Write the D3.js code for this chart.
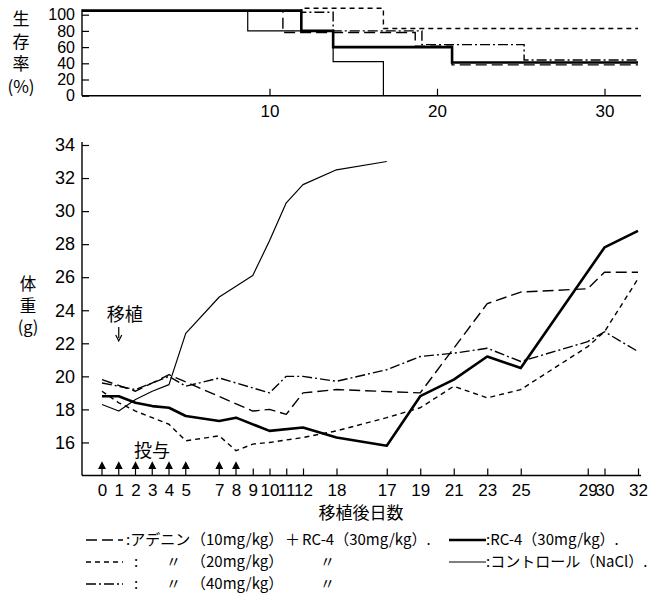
<!DOCTYPE html>
<html>
<head>
<meta charset="utf-8">
<script src="https://cdn.jsdelivr.net/npm/d3@7"></script>
<style>
	body { margin: 0; background: #fff; }
	svg { display: block; }
	.axis text { font-family: "Liberation Sans", sans-serif; font-size: 18px; fill: #000; }
	.axis.narrow text { font-family: "Liberation Sans Narrow", "Liberation Sans", sans-serif; font-size: 17px; }
	.axis line { stroke: #000; stroke-width: 1.2; }
	.jp { font-family: "Noto Sans CJK JP", sans-serif; fill: #000; }
</style>
</head>
<body>
<div id="chart"></div>
<script>
// x axis positions (days) and the labels printed under them (the figure prints "18" at day 14)
var days = [0, 1, 2, 3, 4, 5, 7, 8, 9, 10, 11, 12, 14, 17, 19, 21, 23, 25, 29, 30, 32];
var dayLabels = ["0", "1", "2", "3", "4", "5", "7", "8", "9", "10", "11", "12", "18", "17", "19", "21", "23", "25", "29", "30", "32"];
var doseDays = [0, 1, 2, 3, 4, 5, 7, 8];
var weightTicks = [16, 18, 20, 22, 24, 26, 28, 30, 32, 34];
var survTicks = [0, 20, 40, 60, 80, 100];
var survDayTicks = [10, 20, 30];

// body weight (g)
var ctrlDays = [0, 1, 2, 3, 4, 5, 7, 9, 10, 11, 12, 14, 17];
var ctrlWeight = [18.3, 17.9, 18.6, 19.1, 19.5, 22.6, 24.8, 26.1, 28.2, 30.5, 31.6, 32.5, 33.0];
var rcDays = [0, 1, 2, 3, 4, 5, 7, 8, 10, 12, 14, 17, 19, 21, 23, 25, 30, 32];
var rcWeight = [18.8, 18.8, 18.4, 18.2, 18.1, 17.6, 17.3, 17.5, 16.7, 16.9, 16.3, 15.8, 18.8, 19.8, 21.2, 20.5, 27.8, 28.8];
var a10Days = [0, 2, 4, 9, 10, 11, 12, 14, 19, 23, 25, 29, 30, 32];
var a10Weight = [19.8, 19.1, 20.1, 17.9, 18.0, 17.7, 19.0, 19.2, 19.0, 24.4, 25.1, 25.3, 26.3, 26.3];
var a20Days = [0, 1, 2, 3, 4, 5, 7, 8, 9, 10, 12, 14, 17, 19, 21, 23, 25, 29, 30, 32];
var a20Weight = [19.1, 18.4, 17.9, 17.5, 17.1, 16.1, 16.4, 15.5, 15.9, 16.0, 16.3, 16.7, 17.5, 18.1, 19.4, 18.7, 19.2, 21.8, 22.7, 25.9];
var a40Days = [0, 2, 4, 5, 7, 10, 11, 12, 14, 17, 19, 21, 23, 25, 29, 30, 32];
var a40Weight = [19.6, 19.2, 20.0, 19.4, 19.9, 19.0, 20.0, 20.0, 19.7, 20.4, 21.2, 21.4, 21.7, 20.9, 22.1, 22.7, 21.5];

// survival (%), step curves as drawn (the 100% level sits a little above the 100 tick)
var sCtrlDays = [0, 8.7, 13.8, 16.8];
var sCtrl = [105, 80, 42, 0];
var sRcDays = [0, 11.9, 13.8, 20.9, 32];
var sRc = [105, 80, 60, 41, 41];
var sA10Days = [0, 10.8, 18.7, 20.9, 32];
var sA10 = [105, 78, 61, 38, 38];
var sA20Days = [0, 11.9, 16.8, 32];
var sA20 = [105, 108, 83, 83];
var sA40Days = [0, 11.9, 13.8, 19.1, 25.2, 32];
var sA40 = [105, 103, 80, 63, 44, 44];

function pts(ds, vs) {
	return ds.map(function(d, i) { return [d, vs[i]]; });
}

var series = [
	{ w: ctrlDays, wv: ctrlWeight, s: sCtrlDays, sv: sCtrl, dash: null, width: 1.2 },
	{ w: a10Days, wv: a10Weight, s: sA10Days, sv: sA10, dash: "11,5", width: 1.4 },
	{ w: a20Days, wv: a20Weight, s: sA20Days, sv: sA20, dash: "5,4", width: 1.4 },
	{ w: a40Days, wv: a40Weight, s: sA40Days, sv: sA40, dash: "10,3,2,3", width: 1.4 },
	{ w: rcDays, wv: rcWeight, s: sRcDays, sv: sRc, dash: null, width: 2.6 }
];

var width = 653, height = 601;
var left = 82, right = 641;

var svg = d3.select("#chart").append("svg")
	.attr("width", width)
	.attr("height", height)

var x = d3.scaleLinear()
			.domain([0, 32])
			.range([102, 638])

// ---- survival panel ----
var ys = d3.scaleLinear()
			.domain([0, 100])
			.range([95.7, 14.7])

var sMax = d3.max(series, function(d) { return d3.max(d.sv); });

var gy = svg.append("g").attr("class", "axis")
	.attr("transform", "translate(" + left + ",0)")
	.call(d3.axisLeft(ys).tickValues(survTicks).tickSize(-7).tickPadding(7))
gy.select(".domain").remove();
gy.selectAll("text").style("font-size", "16px");

var gx = svg.append("g").attr("class", "axis")
	.attr("transform", "translate(0," + ys(0) + ")")
	.call(d3.axisBottom(x).tickValues(survDayTicks).tickSize(-7).tickPadding(9))
gx.select(".domain").remove();
gx.selectAll("text").style("font-size", "17px");

svg.selectAll(".axis").attr("font-size", null).attr("font-family", null);

svg.append("line")
	.attr("x1", left).attr("x2", right)
	.attr("y1", ys(0)).attr("y2", ys(0))
	.style("stroke", "#000").style("stroke-width", 1.4)
svg.append("line")
	.attr("x1", left).attr("x2", left)
	.attr("y1", ys(0)).attr("y2", ys(sMax) + 1)
	.style("stroke", "#000").style("stroke-width", 1.4)

var stepLine = d3.line()
	.x(function(d, i) { return i == 0 ? left : x(d[0]); })
	.y(function(d) { return ys(d[1]); })
	.curve(d3.curveStepAfter)

svg.selectAll(".surv")
	.data(series)
	.enter()
	.append("path")
	.attr("class", "surv")
	.attr("d", function(d) { return stepLine(pts(d.s, d.sv)); })
	.style("fill", "none")
	.style("stroke", "#000")
	.style("stroke-width", function(d) { return d.width; })
	.style("stroke-dasharray", function(d) { return d.dash; })

// stacked title 生存率(%)
var sTitle = ["生", "存", "率", "(%)"];
svg.selectAll(".stitle")
	.data(sTitle)
	.enter()
	.append("text")
	.attr("class", "jp")
	.attr("x", 21)
	.attr("y", function(d, i) { return 25 + i * 22.5; })
	.attr("text-anchor", "middle")
	.style("font-size", "17px")
	.text(function(d) { return d; })

// ---- body weight panel ----
var yw = d3.scaleLinear()
			.domain([14, 34])
			.range([475.5, 145])

var gwy = svg.append("g").attr("class", "axis")
	.attr("transform", "translate(" + left + ",0)")
	.call(d3.axisLeft(yw).tickValues(weightTicks).tickSize(-7).tickPadding(7))
gwy.select(".domain").remove();

var gwx = svg.append("g").attr("class", "axis narrow")
	.attr("transform", "translate(0," + yw(14) + ")")
	.call(d3.axisBottom(x).tickValues(days)
		.tickFormat(function(d, i) { return dayLabels[i]; })
		.tickSize(-7).tickPadding(8))
gwx.select(".domain").remove();
gwx.selectAll(".tick")
	.filter(function(d) { return doseDays.indexOf(d) >= 0; })
	.select("line").remove();

svg.selectAll(".axis").attr("font-size", null).attr("font-family", null);

svg.append("line")
	.attr("x1", left).attr("x2", right)
	.attr("y1", yw(14)).attr("y2", yw(14))
	.style("stroke", "#000").style("stroke-width", 1.4)
svg.append("line")
	.attr("x1", left).attr("x2", left)
	.attr("y1", yw(14)).attr("y2", yw(34) - 3)
	.style("stroke", "#000").style("stroke-width", 1.4)

// dosing arrows
svg.selectAll(".dose")
	.data(doseDays)
	.enter()
	.append("path")
	.attr("class", "dose")
	.attr("d", function(d) {
		var cx = x(d), b = yw(14);
		return "M" + cx + "," + b + "V" + (b - 10) +
			"M" + (cx - 3) + "," + (b - 7) + "L" + cx + "," + (b - 13) + "L" + (cx + 3) + "," + (b - 7) + "Z";
	})
	.style("fill", "#000")
	.style("stroke", "#000")
	.style("stroke-width", 1.2)

var line = d3.line()
	.x(function(d) { return x(d[0]); })
	.y(function(d) { return yw(d[1]); })

svg.selectAll(".weight")
	.data(series)
	.enter()
	.append("path")
	.attr("class", "weight")
	.attr("d", function(d) { return line(pts(d.w, d.wv)); })
	.style("fill", "none")
	.style("stroke", "#000")
	.style("stroke-width", function(d) { return d.width; })
	.style("stroke-dasharray", function(d) { return d.dash; })
	.style("stroke-linejoin", "round")

// 移植 marker at day 1
svg.append("text")
	.attr("class", "jp")
	.attr("x", x(1) + 6)
	.attr("y", 321)
	.attr("text-anchor", "middle")
	.style("font-size", "18px")
	.text("移植")
svg.append("path")
	.attr("d", "M" + x(1) + ",327V338M" + (x(1) - 3) + ",335L" + x(1) + ",341L" + (x(1) + 3) + ",335")
	.style("fill", "none")
	.style("stroke", "#000")
	.style("stroke-width", 1.2)

svg.append("text")
	.attr("class", "jp")
	.attr("x", 152)
	.attr("y", 457)
	.attr("text-anchor", "middle")
	.style("font-size", "18px")
	.text("投与")

var wTitle = ["体", "重", "(g)"];
svg.selectAll(".wtitle")
	.data(wTitle)
	.enter()
	.append("text")
	.attr("class", "jp")
	.attr("x", 28)
	.attr("y", function(d, i) { return 290 + i * 21.5; })
	.attr("text-anchor", "middle")
	.style("font-size", "16.5px")
	.text(function(d) { return d; })

svg.append("text")
	.attr("class", "jp")
	.attr("x", 361)
	.attr("y", 519)
	.attr("text-anchor", "middle")
	.style("font-size", "17px")
	.text("移植後日数")

// ---- legend ----
var legendRows = [545, 567, 589];
var legendKeys = [
	{ s: series[1], x: 86, row: 0 },
	{ s: series[2], x: 86, row: 1 },
	{ s: series[3], x: 86, row: 2 },
	{ s: series[4], x: 449, row: 0 },
	{ s: series[0], x: 449, row: 1 }
];

svg.selectAll(".key")
	.data(legendKeys)
	.enter()
	.append("line")
	.attr("class", "key")
	.attr("x1", function(d) { return d.x; })
	.attr("x2", function(d) { return d.x + 37; })
	.attr("y1", function(d) { return legendRows[d.row] - 5; })
	.attr("y2", function(d) { return legendRows[d.row] - 5; })
	.style("stroke", "#000")
	.style("stroke-width", function(d) { return d.s.width; })
	.style("stroke-dasharray", function(d) { return d.s.dash; })

var legendText = [
	{ t: ":アデニン", x: 126, row: 0 },
	{ t: "（10mg/kg）", x: 191, row: 0 },
	{ t: "＋", x: 285, row: 0 },
	{ t: "RC-4（30mg/kg）.", x: 302, row: 0 },
	{ t: ":", x: 134, row: 1 },
	{ t: "〃", x: 166, row: 1 },
	{ t: "（20mg/kg）", x: 191, row: 1 },
	{ t: "〃", x: 320, row: 1 },
	{ t: ":", x: 134, row: 2 },
	{ t: "〃", x: 166, row: 2 },
	{ t: "（40mg/kg）", x: 191, row: 2 },
	{ t: "〃", x: 320, row: 2 },
	{ t: ":RC-4（30mg/kg）.", x: 486, row: 0 },
	{ t: ":コントロール（NaCl）.", x: 486, row: 1 }
];

svg.selectAll(".ltext")
	.data(legendText)
	.enter()
	.append("text")
	.attr("class", "jp")
	.attr("x", function(d) { return d.x; })
	.attr("y", function(d) { return legendRows[d.row]; })
	.style("font-size", "15px")
	.text(function(d) { return d.t; })
</script>
</body>
</html>
